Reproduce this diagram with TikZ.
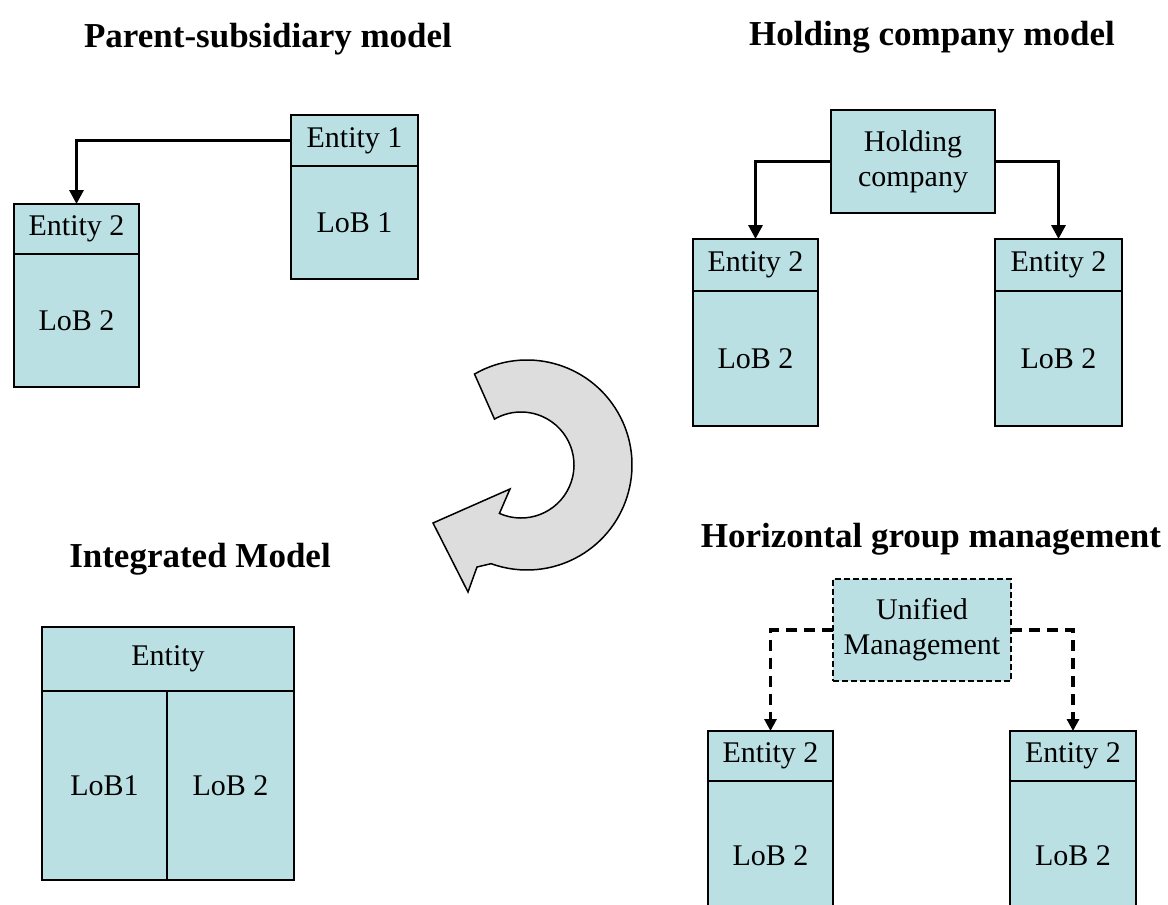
\documentclass[tikz,border=0pt]{standalone}
\usepackage{fontspec}
\setmainfont{Liberation Serif}
\usetikzlibrary{arrows.meta, positioning}
\definecolor{boxcyan}{RGB}{186,224,228}
\definecolor{turngray}{RGB}{221,221,221}

\begin{document}
\begin{tikzpicture}[x=1pt, y=-1pt,
        title/.style={font=\fontsize{35}{40}\selectfont\bfseries, anchor=base},
        ent/.style={rectangle, draw, fill=boxcyan, line width=1.2pt, inner sep=0pt, outer sep=0pt, font=\fontsize{30}{35}\selectfont, align=center},
        lob/.style={ent},
        mgmt/.style={ent, dash pattern=on 6pt off 3pt},
        link/.style={line width=3.2pt, -{Triangle[width=14pt,length=14pt]}},
        dashlink/.style={line width=3.2pt, -{Triangle[width=12pt,length=12pt]}, dash pattern=on 11pt off 7pt},
    ]
\useasboundingbox (0,0) rectangle (1168,905);

\node[title] (ptitle) at (268,47) {Parent-subsidiary model};
\node[ent, minimum width=127, minimum height=51, anchor=north west] (ent1) at (291,115) {Entity 1};
\node[lob, minimum width=127, minimum height=113, below=0pt of ent1] (lob1) {LoB 1};
\node[ent, minimum width=125, minimum height=50, anchor=north west] (ent2) at (14,204) {Entity 2};
\node[lob, minimum width=125, minimum height=133, below=0pt of ent2] (lob2) {LoB 2};
\draw[link] (ent1.west) -| (ent2.north);

\node[title] (htitle) at (932,45) {Holding company model};
\node[ent, minimum width=164, minimum height=103, anchor=north west] (hold) at (831,110) {Holding\\company};
\node[ent, minimum width=125, minimum height=52, anchor=north west] (hent2a) at (693,239) {Entity 2};
\node[lob, minimum width=125, minimum height=135, below=0pt of hent2a] (hlob2a) {LoB 2};
\node[ent, minimum width=127, minimum height=52, anchor=north west] (hent2b) at (995,239) {Entity 2};
\node[lob, minimum width=127, minimum height=135, below=0pt of hent2b] (hlob2b) {LoB 2};
\draw[link] (hold.west) -| (hent2a.north);
\draw[link] (hold.east) -| (hent2b.north);

\draw[fill=turngray, line width=1.5pt] ([shift={(527,465)}]240:105) arc[start angle=240, end angle=470, radius=105]
    -- (477,567) -- (468,592) -- (433,523) -- (510,489)
    -- ([shift={(521,465)}]114:53) arc[start angle=114, end angle=-120, radius=53] -- cycle;

\node[title] (ititle) at (200,567) {Integrated Model};
\node[ent, minimum width=252, minimum height=64, anchor=north west] (ient) at (42,627) {Entity};
\node[lob, minimum width=125, minimum height=189, anchor=north west] (ilob1) at (ient.south west) {LoB1};
\node[lob, minimum width=127, minimum height=189, anchor=north west] (ilob2) at (ilob1.north east) {LoB 2};

\node[title] (gtitle) at (931,547) {Horizontal group management};
\node[mgmt, minimum width=178, minimum height=102, anchor=north west] (unified) at (833,579) {Unified\\Management};
\node[ent, minimum width=125, minimum height=50, anchor=north west] (gent2a) at (708,731) {Entity 2};
\node[lob, minimum width=125, minimum height=150, below=0pt of gent2a] (glob2a) {LoB 2};
\node[ent, minimum width=126, minimum height=50, anchor=north west] (gent2b) at (1010,731) {Entity 2};
\node[lob, minimum width=126, minimum height=150, below=0pt of gent2b] (glob2b) {LoB 2};
\draw[dashlink] (unified.west) -| (gent2a.north);
\draw[dashlink] (unified.east) -| (gent2b.north);
\end{tikzpicture}
\end{document}
